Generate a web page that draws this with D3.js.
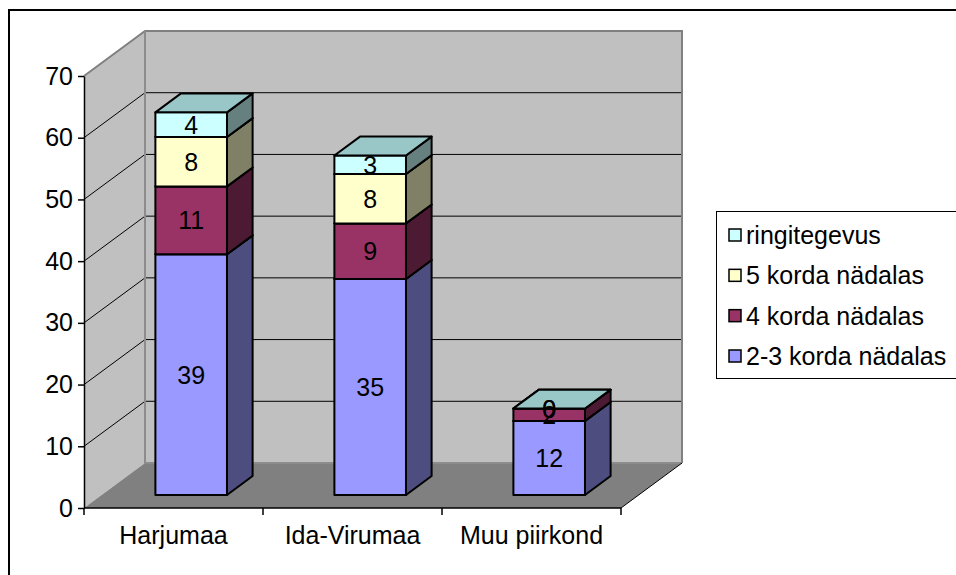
<!DOCTYPE html>
<html>
<head>
<meta charset="utf-8">
<script src="https://cdn.jsdelivr.net/npm/d3@7"></script>
<style>
  body { margin: 0; background: #fff; }
  text { font-family: Arial, "Liberation Sans", sans-serif; }
</style>
</head>
<body>
<div id="chart"></div>
<script>
// chart values
const categories = ['Harjumaa', 'Ida-Virumaa', 'Muu piirkond'];
const seriesNames = ['2-3 korda nädalas', '4 korda nädalas', '5 korda nädalas', 'ringitegevus'];
const vals23 = [39, 35, 12];
const vals4 = [11, 9, 2];
const vals5 = [8, 8, 0];
const valsRing = [4, 3, 0];
const yTicks = [0, 10, 20, 30, 40, 50, 60, 70];

const seriesVals = [vals23, vals4, vals5, valsRing];
// front / side / top face colours per series
const faceColors = [
  { front: '#9999FF', side: '#4D4D80', top: '#7373BF' },
  { front: '#993366', side: '#4D1A33', top: '#73264D' },
  { front: '#FFFFCC', side: '#808066', top: '#BFBF99' },
  { front: '#CCFFFF', side: '#668080', top: '#99C6C6' }
];

const W = 956, H = 575;
const FS = 25;
const svg = d3.select('#chart').append('svg')
  .attr('width', W).attr('height', H);

// outer chart border
svg.append('rect')
  .attr('x', 9).attr('y', 10)
  .attr('width', 970).attr('height', 580)
  .attr('fill', 'none').attr('stroke', '#000').attr('stroke-width', 2);

// 3d frame
const x0 = 84, x1 = 621;
const depthX = 61, depthY = 45;
const y = d3.scaleLinear().domain([0, 70]).range([508, 76]);
const x = d3.scaleBand().domain(categories).range([x0, x1])
  .paddingInner(0.6).paddingOuter(0.3);

const yBottom = y(0), yTop = y(70);
const line = d3.line();

// left wall
svg.append('path')
  .attr('d', line([[x0, yBottom], [x0, yTop], [x0 + depthX, yTop - depthY], [x0 + depthX, yBottom - depthY]]) + 'Z')
  .attr('fill', '#C0C0C0');
// back wall
svg.append('path')
  .attr('d', line([[x0 + depthX, yTop - depthY], [x1 + depthX, yTop - depthY], [x1 + depthX, yBottom - depthY], [x0 + depthX, yBottom - depthY]]) + 'Z')
  .attr('fill', '#C0C0C0');
// floor
svg.append('path')
  .attr('d', line([[x0, yBottom], [x0 + depthX, yBottom - depthY], [x1 + depthX, yBottom - depthY], [x1, yBottom]]) + 'Z')
  .attr('fill', '#808080');

// gridlines
yTicks.filter(t => t > 0 && t < 70).forEach(t => {
  const yy = y(t);
  svg.append('path')
    .attr('d', line([[x0, yy], [x0 + depthX, yy - depthY], [x1 + depthX, yy - depthY]]))
    .attr('fill', 'none').attr('stroke', '#000').attr('stroke-width', 1);
});

// wall edges
svg.append('path')
  .attr('d', line([[x0, yTop], [x0 + depthX, yTop - depthY], [x1 + depthX, yTop - depthY], [x1 + depthX, yBottom - depthY]]))
  .attr('fill', 'none').attr('stroke', '#808080').attr('stroke-width', 2);
svg.append('path')
  .attr('d', line([[x0 + depthX, yTop - depthY], [x0 + depthX, yBottom - depthY], [x1 + depthX, yBottom - depthY]]))
  .attr('fill', 'none').attr('stroke', '#8C8C8C').attr('stroke-width', 2);
svg.append('path')
  .attr('d', line([[x1, yBottom], [x1 + depthX, yBottom - depthY]]))
  .attr('fill', 'none').attr('stroke', '#000').attr('stroke-width', 1);

// bars
const f0 = 0.29, f1 = 0.71;
const bdx = (f1 - f0) * depthX, bdy = (f1 - f0) * depthY;
const labels = [];

categories.forEach((cat, ci) => {
  const bx0 = x(cat) + f0 * depthX;
  const bx1 = bx0 + x.bandwidth();
  const shiftY = f0 * depthY;
  let base = 0;
  seriesVals.forEach((vals, si) => {
    const v = vals[ci];
    const yb = y(base) - shiftY;
    const yt = y(base + v) - shiftY;
    const c = faceColors[si];
    const g = svg.append('g')
      .attr('stroke', '#000').attr('stroke-width', 2).attr('stroke-linejoin', 'round');
    if (v > 0) {
      g.append('path')
        .attr('d', line([[bx0, yb], [bx1, yb], [bx1, yt], [bx0, yt]]) + 'Z')
        .attr('fill', c.front);
      g.append('path')
        .attr('d', line([[bx1, yb], [bx1 + bdx, yb - bdy], [bx1 + bdx, yt - bdy], [bx1, yt]]) + 'Z')
        .attr('fill', c.side);
    }
    g.append('path')
      .attr('d', line([[bx0, yt], [bx1, yt], [bx1 + bdx, yt - bdy], [bx0 + bdx, yt - bdy]]) + 'Z')
      .attr('fill', c.top);
    labels.push({ x: (bx0 + bx1) / 2, y: (yb + yt) / 2, v: v });
    base += v;
  });
});

svg.append('g').selectAll('text')
  .data(labels)
  .join('text')
  .attr('x', d => d.x)
  .attr('y', d => d.y)
  .attr('text-anchor', 'middle')
  .attr('dy', '0.36em')
  .attr('font-size', FS)
  .attr('fill', '#000')
  .text(d => d.v);

// y axis
const yAxis = svg.append('g')
  .attr('transform', `translate(${x0},0)`)
  .call(d3.axisLeft(y).tickValues(yTicks).tickSize(6).tickSizeOuter(0).tickPadding(5));
yAxis.select('.domain').attr('stroke', '#000').attr('stroke-width', 1.5);
yAxis.selectAll('.tick line').attr('stroke', '#000').attr('stroke-width', 1.5);
yAxis.selectAll('.tick text')
  .attr('font-size', FS).attr('fill', '#000')
  .attr('font-family', 'Arial, "Liberation Sans", sans-serif');

// x axis line + category ticks
svg.append('line')
  .attr('x1', x0).attr('x2', x1).attr('y1', yBottom).attr('y2', yBottom)
  .attr('stroke', '#000').attr('stroke-width', 1.5);
const catEdges = d3.range(categories.length + 1).map(i => x0 + i * (x1 - x0) / categories.length);
svg.append('g').selectAll('line')
  .data(catEdges)
  .join('line')
  .attr('x1', d => d).attr('x2', d => d)
  .attr('y1', yBottom).attr('y2', yBottom + 7)
  .attr('stroke', '#000').attr('stroke-width', 1.5);
svg.append('g').selectAll('text')
  .data(categories)
  .join('text')
  .attr('x', d => x(d) + x.bandwidth() / 2)
  .attr('y', 544)
  .attr('text-anchor', 'middle')
  .attr('font-size', FS)
  .attr('fill', '#000')
  .text(d => d);

// legend
const legend = svg.append('g');
legend.append('rect')
  .attr('x', 716.5).attr('y', 211.5)
  .attr('width', 240).attr('height', 167)
  .attr('fill', '#fff').attr('stroke', '#000').attr('stroke-width', 1);
const legendOrder = [3, 2, 1, 0];
const legendY = d3.scalePoint().domain(legendOrder).range([235, 356]);
legendOrder.forEach(si => {
  const ly = legendY(si);
  legend.append('rect')
    .attr('x', 729).attr('y', ly - 6)
    .attr('width', 12).attr('height', 12)
    .attr('fill', faceColors[si].front)
    .attr('stroke', '#000').attr('stroke-width', 1.5);
  legend.append('text')
    .attr('x', 746).attr('y', ly)
    .attr('dy', '0.36em')
    .attr('font-size', FS)
    .attr('fill', '#000')
    .text(seriesNames[si]);
});
</script>
</body>
</html>
